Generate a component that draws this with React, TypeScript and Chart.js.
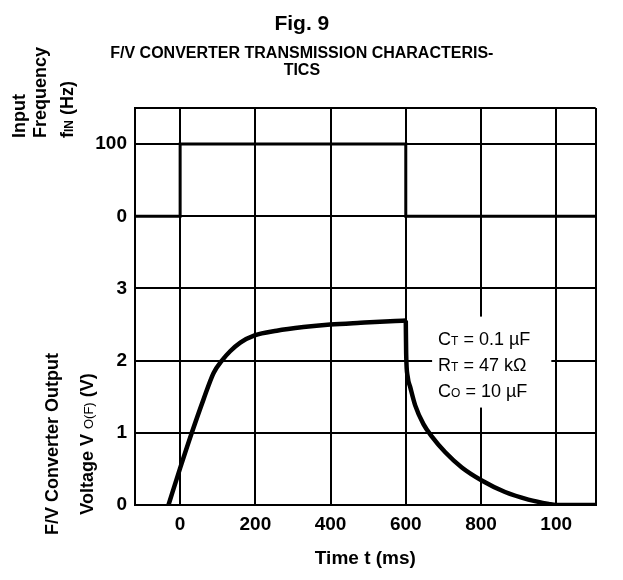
import React, { useEffect, useRef } from 'react';
import { Chart, registerables } from 'chart.js';

Chart.register(...registerables);

// ---- data ----
const pulseTimeMs = [-120, 0, 0, 600, 600, 1105];
const pulseFreqHz = [0, 0, 100, 100, 0, 0];

// F/V output while the input is on (charging)
const chargeTimeMs = [-31, 0, 31, 62, 89, 111, 133, 160, 198, 257, 328, 399, 480, 572, 600];
const chargeVoltV = [0, 0.51, 1.0, 1.46, 1.83, 2.0, 2.13, 2.25, 2.35, 2.415, 2.465, 2.5, 2.525, 2.55, 2.555];

// F/V output after the input stops (discharging)
const dischargeTimeMs = [600, 601, 605, 612, 625, 647, 669, 705, 749, 802, 864, 926, 980, 1000, 1105];
const dischargeVoltV = [2.555, 2.1, 1.78, 1.63, 1.38, 1.12, 0.95, 0.73, 0.52, 0.34, 0.18, 0.075, 0.015, 0, 0];

const xRange = [-120, 1105];
const xTickValues = [0, 200, 400, 600, 800, 1000];
const xTickLabels = ['0', '200', '400', '600', '800', '100'];

const voltRange = [0, 3];
const voltTickValues = [0, 1, 2, 3];
const voltTickLabels = ['0', '1', '2', '3'];

const freqRange = [-100, 150];
const freqTickValues = [0, 100];
const freqTickLabels = ['0', '100'];

const noteMain = ['C', 'R', 'C'];
const noteSub = ['T', 'T', 'O'];
const noteRest = [' = 0.1 \u00b5F', ' = 47 k\u03a9', ' = 10 \u00b5F'];
const noteAnchorMs = 686;
const noteBaselinesV = [2.22, 1.85, 1.5];
const noteBoxMs = [670, 987];
const noteBoxV = [1.35, 2.61];

const FONT = '"Liberation Sans", Arial, Helvetica, sans-serif';

type Run = { t: string; f: string };

function drawRuns(ctx: CanvasRenderingContext2D, runs: Run[], x: number, y: number, align: 'left' | 'center') {
  let total = 0;
  for (const r of runs) {
    ctx.font = r.f;
    total += ctx.measureText(r.t).width;
  }
  let cx = align === 'center' ? x - total / 2 : x;
  ctx.textAlign = 'left';
  ctx.textBaseline = 'alphabetic';
  for (const r of runs) {
    ctx.font = r.f;
    ctx.fillText(r.t, cx, y);
    cx += ctx.measureText(r.t).width;
  }
}

const figTextPlugin = {
  id: 'figText',
  beforeDatasetsDraw(chart: any) {
    const { ctx, scales } = chart;
    const x = scales.x;
    const y = scales.y;
    ctx.save();
    const l = x.getPixelForValue(noteBoxMs[0]);
    const r = x.getPixelForValue(noteBoxMs[1]);
    const t = y.getPixelForValue(noteBoxV[1]);
    const b = y.getPixelForValue(noteBoxV[0]);
    ctx.fillStyle = '#fff';
    ctx.fillRect(l, t, r - l, b - t);
    ctx.fillStyle = '#000';
    const ax = x.getPixelForValue(noteAnchorMs);
    for (let i = 0; i < noteMain.length; i++) {
      drawRuns(
        ctx,
        [
          { t: noteMain[i], f: `18px ${FONT}` },
          { t: noteSub[i], f: `12px ${FONT}` },
          { t: noteRest[i], f: `18px ${FONT}` },
        ],
        ax,
        y.getPixelForValue(noteBaselinesV[i]),
        'left'
      );
    }
    ctx.restore();
  },
  afterDraw(chart: any) {
    const { ctx } = chart;
    ctx.save();
    ctx.fillStyle = '#000';
    const big = `bold 18px ${FONT}`;
    const small = `bold 12px ${FONT}`;
    const smallN = `13px ${FONT}`;
    // top axis title (start aligned)
    const topLines: Run[][] = [
      [{ t: 'Input', f: big }],
      [{ t: 'Frequency', f: big }],
      [
        { t: 'f', f: big },
        { t: 'IN', f: small },
        { t: ' (Hz)', f: big },
      ],
    ];
    const topBase = [17, 37.5, 65];
    const topStart = 130;
    topLines.forEach((runs, i) => {
      ctx.save();
      ctx.translate(topBase[i], topStart);
      ctx.rotate(-Math.PI / 2);
      drawRuns(ctx, runs, 0, 0, 'left');
      ctx.restore();
    });
    // bottom axis title (centered)
    const botLines: Run[][] = [
      [{ t: 'F/V Converter Output', f: big }],
      [
        { t: 'Voltage V ', f: big },
        { t: 'O(F)', f: smallN },
        { t: ' (V)', f: big },
      ],
    ];
    const botBase = [50, 85];
    const botCenter = 436;
    botLines.forEach((runs, i) => {
      ctx.save();
      ctx.translate(botBase[i], botCenter);
      ctx.rotate(-Math.PI / 2);
      drawRuns(ctx, runs, 0, 0, 'center');
      ctx.restore();
    });
    ctx.restore();
  },
};

function labelFor(values: number[], labels: string[]) {
  return (v: any) => {
    const i = values.indexOf(Number(v));
    return i >= 0 ? labels[i] : '';
  };
}

export default function App() {
  const ref = useRef<HTMLCanvasElement | null>(null);

  useEffect(() => {
    if (!ref.current) return;
    const tickFont = { family: FONT, size: 19, weight: 'bold' as const };
    const grid = { color: '#000', lineWidth: 2, drawTicks: false };
    const border = { color: '#000', width: 2 };
    const curveStyle = {
      yAxisID: 'y',
      borderColor: '#000',
      borderWidth: 4.5,
      pointRadius: 0,
      cubicInterpolationMode: 'monotone',
    };

    const chart = new Chart(ref.current, {
      type: 'line',
      data: {
        datasets: [
          {
            label: 'fIN',
            data: pulseTimeMs.map((t, i) => ({ x: t, y: pulseFreqHz[i] })),
            yAxisID: 'y2',
            borderColor: '#000',
            borderWidth: 3,
            pointRadius: 0,
            tension: 0,
          },
          {
            label: 'VO(F) charge',
            data: chargeTimeMs.map((t, i) => ({ x: t, y: chargeVoltV[i] })),
            ...curveStyle,
          },
          {
            label: 'VO(F) discharge',
            data: dischargeTimeMs.map((t, i) => ({ x: t, y: dischargeVoltV[i] })),
            ...curveStyle,
          },
        ],
      },
      options: {
        animation: false,
        responsive: true,
        maintainAspectRatio: false,
        layout: { padding: { left: 0, right: 19.3, top: 0, bottom: 0 } },
        plugins: {
          legend: { display: false },
          tooltip: { enabled: false },
          title: {
            display: true,
            text: 'Fig. 9',
            color: '#000',
            font: { family: FONT, size: 21, weight: 'bold', lineHeight: 1.2 },
            padding: { top: 4, bottom: 0 },
          },
          subtitle: {
            display: true,
            text: ['F/V CONVERTER TRANSMISSION CHARACTERIS-', 'TICS'],
            color: '#000',
            font: { family: FONT, size: 16, weight: 'bold', lineHeight: 1.0625 },
            padding: { top: 8, bottom: 28.8 },
          },
        },
        scales: {
          x: {
            type: 'linear',
            min: xRange[0],
            max: xRange[1],
            afterBuildTicks: (s: any) => {
              s.ticks = [xRange[0], ...xTickValues, xRange[1]].map((v) => ({ value: v }));
            },
            afterFit: (s: any) => {
              s.height = 67;
            },
            ticks: {
              callback: labelFor(xTickValues, xTickLabels),
              color: '#000',
              font: tickFont,
              padding: 8,
              autoSkip: false,
              maxRotation: 0,
            },
            grid,
            border,
            title: {
              display: true,
              text: 'Time t (ms)',
              color: '#000',
              font: { family: FONT, size: 19, weight: 'bold', lineHeight: 1.2 },
              padding: { top: 0, bottom: 2 },
            },
          },
          y: {
            type: 'linear',
            position: 'left',
            stack: 'panels',
            stackWeight: voltRange[1] - voltRange[0],
            min: voltRange[0],
            max: voltRange[1],
            afterBuildTicks: (s: any) => {
              s.ticks = voltTickValues.map((v) => ({ value: v }));
            },
            afterFit: (s: any) => {
              s.width = 127;
            },
            ticks: {
              callback: labelFor(voltTickValues, voltTickLabels),
              color: '#000',
              font: tickFont,
              padding: 8,
            },
            grid,
            border,
          },
          y2: {
            type: 'linear',
            position: 'left',
            stack: 'panels',
            stackWeight: (freqRange[1] - freqRange[0]) / 100,
            min: freqRange[0],
            max: freqRange[1],
            afterBuildTicks: (s: any) => {
              s.ticks = [freqRange[0], ...freqTickValues, freqRange[1]].map((v) => ({ value: v }));
            },
            afterFit: (s: any) => {
              s.width = 127;
            },
            ticks: {
              callback: labelFor(freqTickValues, freqTickLabels),
              color: '#000',
              font: tickFont,
              padding: 8,
            },
            grid,
            border,
          },
        },
      } as any,
      plugins: [figTextPlugin],
    });
    return () => chart.destroy();
  }, []);

  return (
    <div style={{ position: 'relative', width: 607, height: 564 }}>
      <canvas ref={ref} />
    </div>
  );
}
